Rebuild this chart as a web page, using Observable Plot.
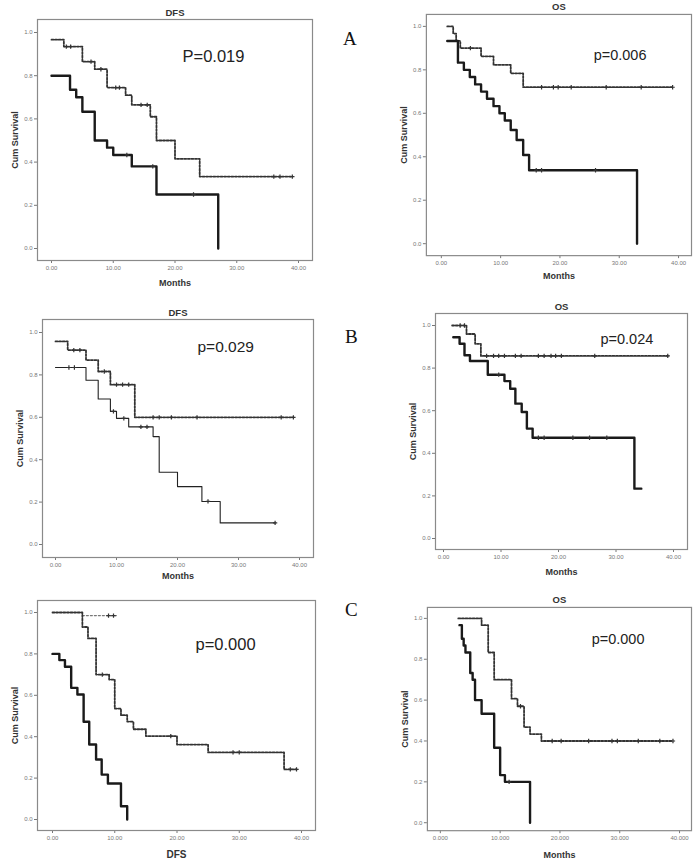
<!DOCTYPE html>
<html>
<head>
<meta charset="utf-8">
<script src="https://cdn.jsdelivr.net/npm/d3@7"></script>
<script src="https://cdn.jsdelivr.net/npm/@observablehq/plot@0.6"></script>
<style>
  html, body { margin: 0; padding: 0; background: #fff; }
  #wrap { position: relative; width: 695px; height: 863px; overflow: hidden; background: #fff; }
  .panel { position: absolute; }
  .letter { position: absolute; font-family: "Liberation Serif", "DejaVu Serif", serif; font-size: 19px; color: #111; line-height: 1; }
</style>
</head>
<body>
<div id="wrap"></div>
<script>
// ---------- data ----------
const xTicks = [0, 10, 20, 30, 40];
const yTicks = [0, 0.2, 0.4, 0.6, 0.8, 1.0];

// A — DFS
const aDfsHiT = [0, 2, 5, 7, 9, 12, 13, 16, 17, 20, 24, 39];
const aDfsHiS = [0.967, 0.935, 0.865, 0.83, 0.745, 0.71, 0.665, 0.61, 0.5, 0.415, 0.333, 0.333];
const aDfsHiC = [2.4, 3.1, 6.4, 8, 10.4, 11, 14.5, 15.5, 36, 37, 39];
const aDfsLoT = [0, 3, 4, 5, 7, 9, 10, 13, 17, 27];
const aDfsLoS = [0.8, 0.735, 0.7, 0.633, 0.5, 0.467, 0.433, 0.38, 0.25, 0];
const aDfsLoC = [12.2, 16.4, 23];

// A — OS
const aOsHiT = [1, 2, 2.5, 3.2, 6.7, 8.8, 11.7, 13.8, 39];
const aOsHiS = [1.0, 0.967, 0.933, 0.9, 0.862, 0.823, 0.784, 0.72, 0.72];
const aOsHiC = [4.9, 16.9, 18.9, 19.7, 21.9, 27.8, 33.7, 39];
const aOsLoT = [1, 2.8, 3.8, 4.8, 5.7, 6.7, 7.7, 8.8, 9.8, 10.7, 11.7, 12.7, 13.8, 14.8, 33];
const aOsLoS = [0.933, 0.833, 0.8, 0.767, 0.733, 0.7, 0.667, 0.633, 0.6, 0.567, 0.523, 0.477, 0.408, 0.338, 0];
const aOsLoC = [16, 16.9, 26];

// B — DFS
const bDfsHiT = [0, 2, 5, 7, 9, 13, 39];
const bDfsHiS = [0.958, 0.917, 0.87, 0.816, 0.754, 0.6, 0.6];
const bDfsHiC = [3, 4, 8, 10, 11, 12, 16, 17, 19, 23.2, 37, 39];
const bDfsLoT = [0, 5, 7, 9, 10, 12, 16, 17, 20, 24, 27, 36];
const bDfsLoS = [0.835, 0.775, 0.686, 0.628, 0.595, 0.555, 0.509, 0.341, 0.273, 0.203, 0.102, 0.102];
const bDfsLoC = [2.2, 3.1, 9.5, 11.2, 14, 15, 25, 36];

// B — OS
const bOsHiT = [1.5, 4, 5.5, 6.5, 39];
const bOsHiS = [1.0, 0.96, 0.914, 0.857, 0.857];
const bOsHiC = [2.9, 3.65, 7.5, 8.7, 9.6, 10.6, 12.5, 13.5, 16.5, 17.5, 18.7, 19.5, 20.5, 26.3, 39];
const bOsLoT = [1.7, 2.8, 3.65, 4.6, 7.7, 10.6, 11.6, 12.5, 13.6, 14.5, 15.5, 33.2, 34.4];
const bOsLoS = [0.945, 0.914, 0.86, 0.833, 0.769, 0.739, 0.703, 0.633, 0.594, 0.516, 0.473, 0.234, 0.234];
const bOsLoC = [9.6, 16.5, 17.5, 22.5, 25.4, 28.4];

// C — DFS
const cDfsHiT = [0, 4.8, 5.7, 7, 9.1, 10, 11, 12, 13, 15, 20, 25, 37.2, 39.2];
const cDfsHiS = [1.0, 0.93, 0.875, 0.70, 0.676, 0.536, 0.504, 0.473, 0.436, 0.403, 0.362, 0.324, 0.242, 0.242];
const cDfsHiC = [8, 19, 29, 30, 38.2, 39.2];
const cDfsMidT = [4.8, 10.3];
const cDfsMidS = [0.985, 0.985];
const cDfsMidC = [9, 9.8];
const cDfsLoT = [0, 1.1, 2, 3, 4, 5, 5.9, 7, 7.9, 8.9, 11, 12];
const cDfsLoS = [0.8, 0.77, 0.738, 0.636, 0.604, 0.472, 0.362, 0.29, 0.217, 0.174, 0.064, 0];

// C — OS
const cOsHiT = [3, 6.9, 8, 9, 11.9, 12.9, 14, 15, 16.9, 38.9];
const cOsHiS = [1.0, 0.967, 0.833, 0.7, 0.607, 0.57, 0.468, 0.434, 0.40, 0.40];
const cOsHiC = [13.4, 18.7, 20.2, 24.8, 28.7, 29.6, 33.1, 36.7, 38.9];
const cOsLoT = [3.2, 3.6, 3.9, 4.2, 5, 5.4, 5.8, 6.9, 9, 10, 10.8, 15];
const cOsLoS = [0.967, 0.9, 0.867, 0.833, 0.733, 0.7, 0.6, 0.533, 0.367, 0.233, 0.2, 0];
const cOsLoC = [11.5];

// ---------- helpers ----------
const curve = (T, S) => T.map((t, i) => ({t, s: S[i]}));
function survAt(T, S, t) {
  let v = S[0];
  for (let i = 0; i < T.length; i++) if (T[i] <= t) v = S[i];
  return v;
}
const censor = (T, S, C) => C.map(t => ({t, s: survAt(T, S, t)}));

const DASH = {stroke: "#333", strokeWidth: 1.8, strokeDasharray: "2,1.6"};
const THICK = {stroke: "#1a1a1a", strokeWidth: 2.4};
const THIN = {stroke: "#222", strokeWidth: 1.1};
const LIGHT = {stroke: "#777", strokeWidth: 1.2, strokeDasharray: "2,2"};

const ML = 36, MR = 4, MT = 22, MB = 32;

function panel(cfg) {
  const {L, T, R, B, x0, x40, y1, y0} = cfg;
  const width = (R - L) + ML + MR;
  const height = (B - T) + MT + MB;
  const marks = [Plot.frame({stroke: "#8a8a8a", strokeWidth: 1.2})];
  for (const c of cfg.curves) {
    marks.push(Plot.line(curve(c.T, c.S), {x: "t", y: "s", curve: "step-after", ...c.style}));
    if (c.C && c.C.length) {
      marks.push(Plot.dot(censor(c.T, c.S, c.C), {x: "t", y: "s", symbol: "plus", r: 1.5, stroke: "#333", strokeWidth: 1.2}));
    }
  }
  if (cfg.title) {
    marks.push(Plot.text([cfg.title], {text: d => d, frameAnchor: "top", dy: -7, lineAnchor: "middle",
      fontSize: 9.5, fontWeight: "bold", fill: "#333"}));
  }
  marks.push(Plot.text([cfg.xlabel], {text: d => d, frameAnchor: "bottom", dy: cfg.xlabelDy, lineAnchor: "middle",
    fontSize: cfg.xlabelSize || 9, fontWeight: "bold", fill: "#333"}));
  marks.push(Plot.text(["Cum Survival"], {text: d => d, frameAnchor: "left", dx: -22, rotate: -90, textAnchor: "middle",
    lineAnchor: "middle", fontSize: 9, fontWeight: "bold", fill: "#333"}));
  marks.push(Plot.text([cfg.p], {text: d => d, frameAnchor: "top-left", dx: cfg.pdx, dy: cfg.pdy, textAnchor: "start",
    lineAnchor: "middle", fontSize: cfg.pSize, fill: "#222"}));

  const svg = Plot.plot({
    width, height,
    marginLeft: ML, marginRight: MR, marginTop: MT, marginBottom: MB,
    style: {fontFamily: "'Liberation Sans', Arial, sans-serif", fontSize: "6px", color: "#777", background: "transparent"},
    x: {domain: [0, 40], insetLeft: x0 - L, insetRight: R - x40, ticks: xTicks, tickFormat: cfg.xFormat,
        tickSize: 3, tickPadding: 2, label: null},
    y: {domain: [0, 1], insetTop: y1 - T, insetBottom: B - y0, ticks: yTicks, tickFormat: d3.format(".1f"),
        tickSize: 3, tickPadding: 2, label: null},
    marks
  });
  const div = document.createElement("div");
  div.className = "panel";
  div.style.left = (L - ML) + "px";
  div.style.top = (T - MT) + "px";
  div.appendChild(svg);
  document.getElementById("wrap").appendChild(div);
}

const f2 = d3.format(".2f");
const f3 = d3.format(".3f");

// A
panel({L: 37, T: 19, R: 312, B: 260, x0: 51, x40: 298, y1: 32, y0: 248, title: "DFS", xlabel: "Months", xlabelDy: 23,
  p: "P=0.019", pSize: 16.5, pdx: 145, pdy: 37, xFormat: f2,
  curves: [
    {T: aDfsHiT, S: aDfsHiS, C: aDfsHiC, style: DASH},
    {T: aDfsLoT, S: aDfsLoS, C: aDfsLoC, style: THICK}
  ]});
panel({L: 426, T: 14, R: 692, B: 256, x0: 441, x40: 679, y1: 26, y0: 244, title: "OS", xlabel: "Months", xlabelDy: 21,
  p: "p=0.006", pSize: 14.5, pdx: 168, pdy: 41, xFormat: f2,
  curves: [
    {T: aOsHiT, S: aOsHiS, C: aOsHiC, style: DASH},
    {T: aOsLoT, S: aOsLoS, C: aOsLoC, style: THICK}
  ]});
// B
panel({L: 42, T: 319, R: 313, B: 557, x0: 55, x40: 299, y1: 332, y0: 544, title: "DFS", xlabel: "Months", xlabelDy: 19,
  p: "p=0.029", pSize: 15.5, pdx: 155, pdy: 28, xFormat: f2,
  curves: [
    {T: bDfsHiT, S: bDfsHiS, C: bDfsHiC, style: DASH},
    {T: bDfsLoT, S: bDfsLoS, C: bDfsLoC, style: THIN}
  ]});
panel({L: 435, T: 313, R: 687, B: 549, x0: 443, x40: 673, y1: 325, y0: 538, title: "OS", xlabel: "Months", xlabelDy: 23,
  p: "p=0.024", pSize: 14.5, pdx: 165, pdy: 26, xFormat: f2,
  curves: [
    {T: bOsHiT, S: bOsHiS, C: bOsHiC, style: DASH},
    {T: bOsLoT, S: bOsLoS, C: bOsLoC, style: THICK}
  ]});
// C
panel({L: 37, T: 600, R: 315, B: 830, x0: 52, x40: 301, y1: 612, y0: 819, title: null, xlabel: "DFS", xlabelDy: 24, xlabelSize: 10,
  p: "p=0.000", pSize: 16.5, pdx: 158, pdy: 44, xFormat: f2,
  curves: [
    {T: cDfsMidT, S: cDfsMidS, C: cDfsMidC, style: LIGHT},
    {T: cDfsHiT, S: cDfsHiS, C: cDfsHiC, style: DASH},
    {T: cDfsLoT, S: cDfsLoS, C: [], style: THICK}
  ]});
panel({L: 427, T: 607, R: 692, B: 831, x0: 440, x40: 680, y1: 618, y0: 823, title: "OS", xlabel: "Months", xlabelDy: 25,
  p: "p=0.000", pSize: 14.5, pdx: 165, pdy: 32, xFormat: f3,
  curves: [
    {T: cOsHiT, S: cOsHiS, C: cOsHiC, style: DASH},
    {T: cOsLoT, S: cOsLoS, C: cOsLoC, style: THICK}
  ]});

// panel letters
const letters = [["A", 343, 29], ["B", 345, 327], ["C", 345, 600]];
for (const [txt, x, y] of letters) {
  const d = document.createElement("div");
  d.className = "letter";
  d.textContent = txt;
  d.style.left = x + "px";
  d.style.top = y + "px";
  document.getElementById("wrap").appendChild(d);
}
</script>
</body>
</html>
